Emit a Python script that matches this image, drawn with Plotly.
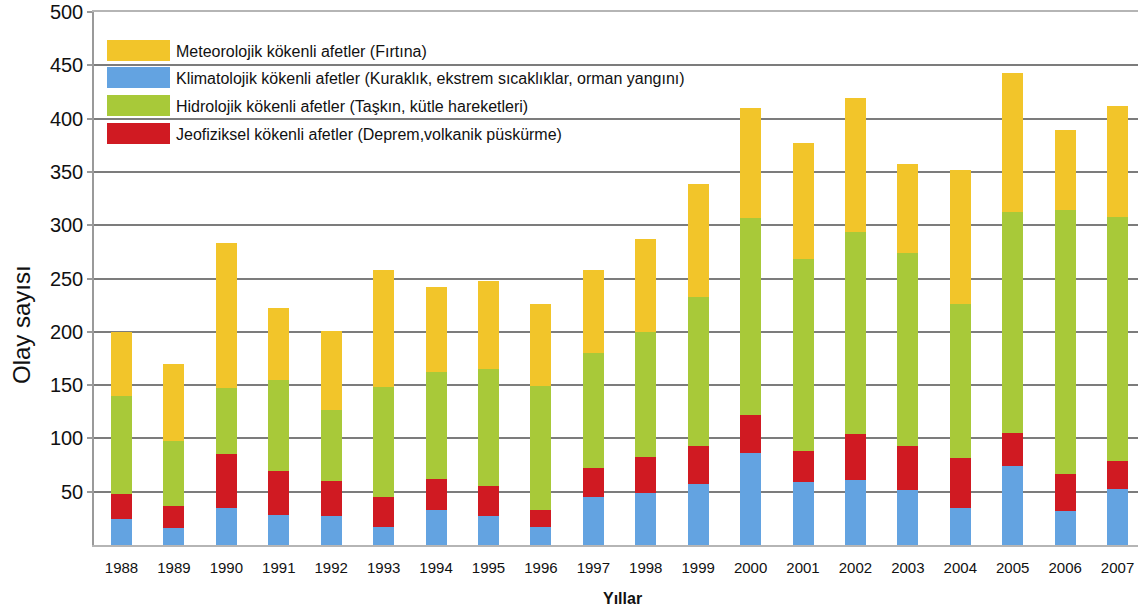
import plotly.graph_objects as go

years = ["1988", "1989", "1990", "1991", "1992", "1993", "1994", "1995", "1996", "1997",
         "1998", "1999", "2000", "2001", "2002", "2003", "2004", "2005", "2006", "2007"]

# Segment values (stacked from bottom: climatological, geophysical, hydrological, meteorological)
klimatolojik = [24, 16, 35, 28, 27, 17, 33, 27, 17, 45, 49, 57, 86, 59, 61, 52, 35, 74, 32, 53]
jeofiziksel = [24, 21, 50, 41, 33, 28, 29, 28, 16, 27, 34, 36, 36, 29, 43, 41, 47, 31, 35, 26]
hidrolojik = [92, 61, 62, 86, 67, 103, 100, 110, 116, 108, 117, 140, 185, 180, 190, 181, 144, 207, 247, 229]
meteorolojik = [60, 72, 136, 67, 74, 110, 80, 83, 77, 78, 87, 106, 103, 109, 125, 83, 126, 131, 75, 104]

names = {
    "met": "Meteorolojik kökenli afetler (Fırtına)",
    "kli": "Klimatolojik kökenli afetler (Kuraklık, ekstrem sıcaklıklar, orman yangını)",
    "hid": "Hidrolojik kökenli afetler (Taşkın, kütle hareketleri)",
    "jeo": "Jeofiziksel kökenli afetler (Deprem,volkanik püskürme)",
}
colors = {"met": "#F2C52A", "kli": "#63A3E1", "hid": "#A8C939", "jeo": "#D01A22"}

y_ticks = [50, 100, 150, 200, 250, 300, 350, 400, 450, 500]

W, H = 1138, 611
L, R, T, B = 94, 0, 12, 66
FONT = "Liberation Sans, Arial, sans-serif"

fig = go.Figure()
for key, vals in [("kli", klimatolojik), ("jeo", jeofiziksel), ("hid", hidrolojik), ("met", meteorolojik)]:
    fig.add_trace(go.Bar(x=years, y=vals, name=names[key], marker=dict(color=colors[key], line=dict(width=0)),
                         width=0.4, showlegend=False))

pw = W - L - R
ph = H - T - B


def px(x):
    return (x - L) / pw


def py(y):
    return (H - B - y) / ph


shapes = []
annotations = []
legend_items = [("met", 40, 61), ("kli", 67, 88), ("hid", 95, 116), ("jeo", 123, 144)]
for key, y0, y1 in legend_items:
    shapes.append(dict(type="rect", xref="paper", yref="paper", x0=px(107), x1=px(170), y0=py(y1), y1=py(y0),
                       fillcolor=colors[key], line=dict(width=0), layer="above"))
    annotations.append(dict(xref="paper", yref="paper", x=px(174), y=py((y0 + y1) / 2 + 1), text=names[key],
                            showarrow=False, xanchor="left", yanchor="middle",
                            font=dict(family=FONT, size=16, color="#111")))

annotations.append(dict(xref="paper", yref="paper", x=px(21), y=py(325), text="Olay sayısı", textangle=-90,
                        showarrow=False, xanchor="center", yanchor="middle",
                        font=dict(family=FONT, size=24, color="#111")))
annotations.append(dict(xref="paper", yref="paper", x=px(622), y=py(598), text="<b>Yıllar</b>",
                        showarrow=False, xanchor="center", yanchor="middle",
                        font=dict(family=FONT, size=16, color="#111")))

fig.update_layout(
    width=W, height=H,
    margin=dict(l=L, r=R, t=T, b=B, pad=0),
    barmode="stack",
    paper_bgcolor="white",
    plot_bgcolor="white",
    showlegend=False,
    shapes=shapes,
    annotations=annotations,
    xaxis=dict(
        type="category", range=[-0.525, 19.39],
        showgrid=False, showline=True, mirror=True, linecolor="#b5b5b5", linewidth=1.5,
        ticks="", ticklabelstandoff=8,
        tickfont=dict(family=FONT, size=15, color="#111"),
    ),
    yaxis=dict(
        range=[0, 500], tickvals=y_ticks,
        showgrid=True, gridcolor="#7c7c7c", gridwidth=1.5, zeroline=False,
        showline=True, linecolor="#9a9a9a", linewidth=1.5,
        ticks="outside", ticklen=5, tickcolor="#9a9a9a", tickwidth=1.5,
        tickfont=dict(family=FONT, size=20, color="#111"),
    ),
)

fig.write_html("out.html", config={"displayModeBar": False},
               post_script="document.body.style.margin='0';document.body.style.overflow='hidden';")
